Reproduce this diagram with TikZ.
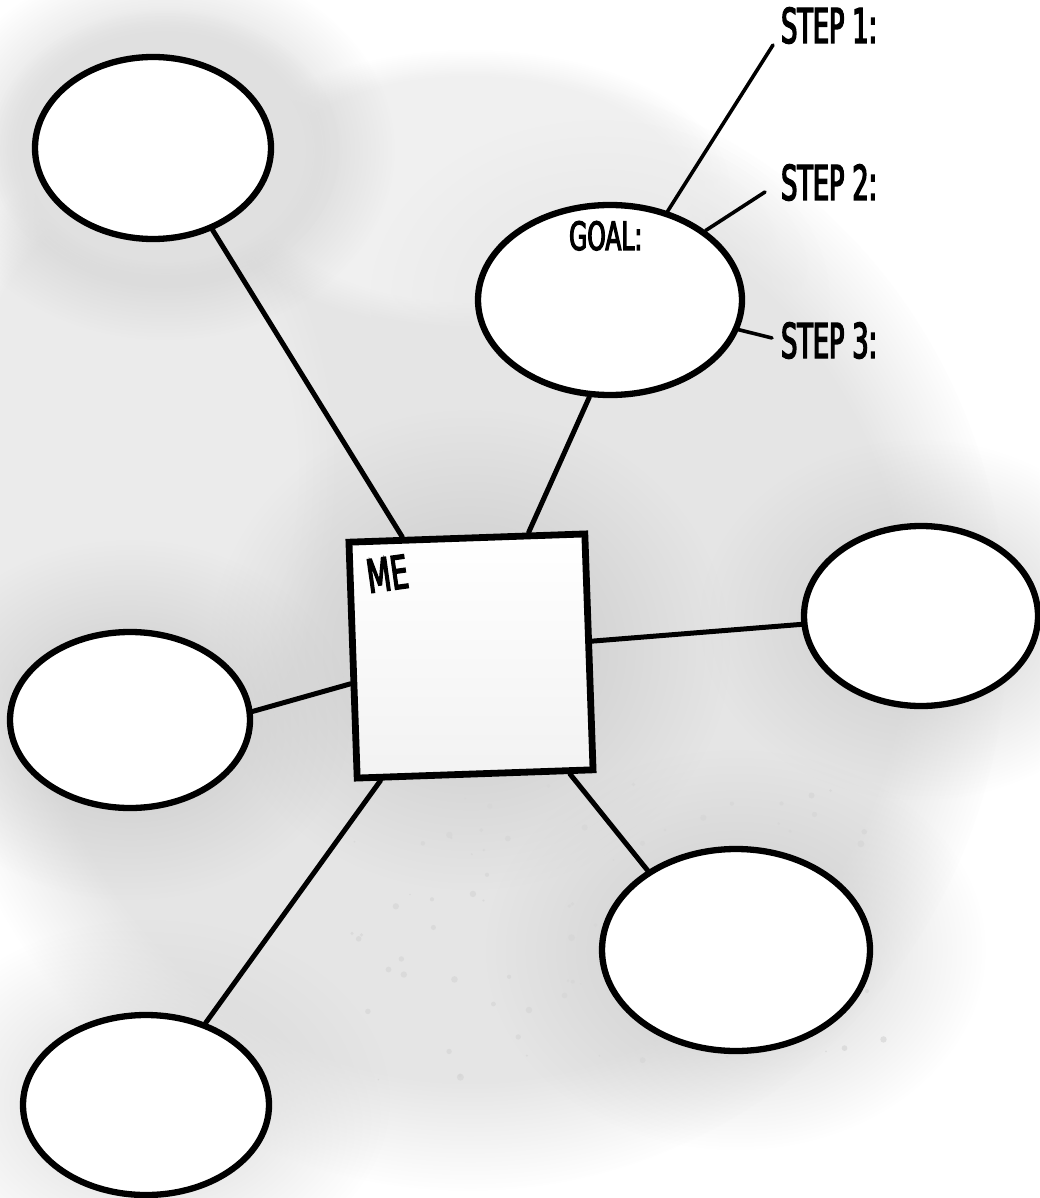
\documentclass[tikz,border=0pt]{standalone}
\usepackage{fontspec}
\newfontfamily\handfont[FakeStretch=0.53,FakeBold=3]{DejaVu Sans}
\newfontfamily\handwide[FakeStretch=0.6,FakeBold=3]{DejaVu Sans}
\usetikzlibrary{shapes.geometric,fadings,calc}
\tikzfading[name=softblob, inner color=transparent!0, outer color=transparent!100]
\begin{document}
\begin{tikzpicture}[x=1pt,y=-1pt,
  bubble/.style={draw=black, fill=white, ellipse, line width=6.3pt, inner sep=0pt},
  link/.style={draw=black, line width=5pt, line cap=round},
  steplink/.style={draw=black, line width=3.6pt, line cap=round},
  hand/.style={inner sep=0pt, anchor=base west, text=black},
  blob/.style={path fading=circle with fuzzy edge 20 percent},
  soft/.style={path fading=softblob},
]
\useasboundingbox (0,0) rectangle (1039,1198);
% ---------- background wash ----------
\fill[white] (0,0) rectangle (1039,1198);
\fill[black!10, blob] (470,630) ellipse (540pt and 560pt);
\fill[black!8, blob] (130,470) ellipse (210pt and 330pt);
\fill[black!6, blob] (470,190) ellipse (260pt and 140pt);
\fill[black!28, soft] (165,150) ellipse (230pt and 190pt);
\fill[black!12, blob] (165,150) ellipse (175pt and 140pt);
\fill[black!10, soft] (600,300) ellipse (230pt and 180pt);
\fill[black!22, soft] (470,650) ellipse (260pt and 240pt);
\fill[black!20, soft] (920,620) ellipse (220pt and 180pt);
\fill[black!22, soft] (130,720) ellipse (220pt and 180pt);
\fill[black!20, soft] (736,950) ellipse (250pt and 200pt);
\fill[black!16, soft] (150,1100) ellipse (240pt and 180pt);
% speckles
\pgfmathsetseed{5}
\foreach \i in {1,...,90}{
  \pgfmathsetmacro{\px}{330+rnd*560}
  \pgfmathsetmacro{\py}{780+rnd*300}
  \pgfmathsetmacro{\pr}{0.8+rnd*2.8}
  \fill[black!16, opacity=0.7] (\px,\py) circle (\pr pt);
}
% ---------- nodes ----------
\node[bubble, minimum width=236pt, minimum height=182pt] (tl) at (153,148) {};
\node[bubble, minimum width=264pt, minimum height=190pt] (goal) at (610,300) {};
\node[bubble, minimum width=234pt, minimum height=180pt] (right) at (921,616) {};
\node[bubble, minimum width=240pt, minimum height=176pt] (left) at (130,720) {};
\node[bubble, minimum width=268pt, minimum height=202pt] (br) at (736,950) {};
\node[bubble, minimum width=246pt, minimum height=180pt] (bl) at (146,1105) {};
\node[draw=black, line width=6.8pt, minimum size=236pt, inner sep=0pt, rotate=2,
      top color=white, bottom color=black!5,
      font=\handwide\fontsize{46}{46}\selectfont] (me) at (471,656)
  {\begin{minipage}[c][236pt][t]{236pt}\vspace*{14pt}\hspace*{15pt}\rotatebox{6}{ME}\end{minipage}};
% ---------- texts ----------
\node[hand, font=\handwide\fontsize{39}{39}\selectfont] (goaltext) at (569,250) {GOAL:};
\node[hand, font=\handfont\fontsize{48}{48}\selectfont] (s1) at (781,43) {STEP 1:};
\node[hand, font=\handfont\fontsize{48}{48}\selectfont] (s2) at (781,200) {STEP 2:};
\node[hand, font=\handfont\fontsize{48}{48}\selectfont] (s3) at (781,358) {STEP 3:};
% ---------- connectors ----------
\draw[link] (tl.306) -- (me.118);
\draw[link] (goal.258) -- (me.63);
\draw[link] (right.184) -- (me.5);
\draw[link] (left.4) -- (me.191);
\draw[link] (br.138) -- (me.308);
\draw[link] (bl.54) -- (me.232);
\draw[steplink] (goal.57) -- ([xshift=-8pt,yshift=-2pt]s1.base west);
\draw[steplink] (goal.36) -- ([xshift=-16pt,yshift=8pt]s2.base west);
\draw[steplink] (goal.347) -- ([xshift=-9pt,yshift=20pt]s3.base west);
\end{tikzpicture}
\end{document}
